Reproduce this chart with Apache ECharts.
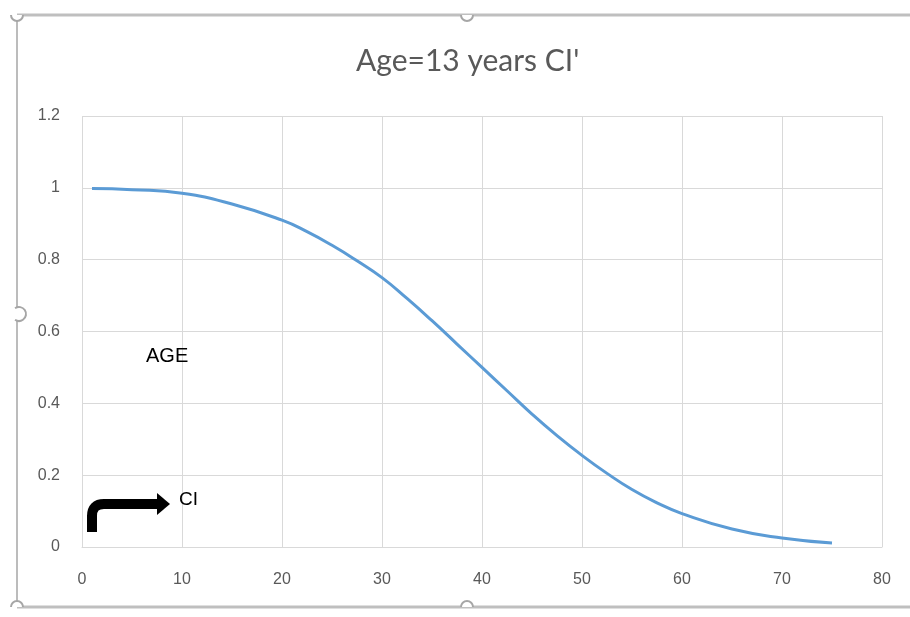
<!DOCTYPE html>
<html><head><meta charset="utf-8">
<script src="https://cdn.jsdelivr.net/npm/echarts@6/dist/echarts.min.js"></script>
<style>html,body{margin:0;padding:0;background:#fff}#c{width:910px;height:617px}</style>
</head><body><div id="c"></div>
<script>
var titleText = "Age=13 years CI'";
var xValues = [1, 5, 10, 15, 20, 22.5, 25, 27.5, 30, 32.5, 35, 37.5, 40, 42.5, 45, 47.5, 50, 52.5, 55, 57.5, 60, 65, 70, 75];
var yValues = [0.998, 0.995, 0.985, 0.955, 0.91, 0.878, 0.84, 0.797, 0.75, 0.692, 0.63, 0.565, 0.5, 0.435, 0.37, 0.31, 0.255, 0.205, 0.16, 0.123, 0.093, 0.05, 0.025, 0.011];
var xTicks = [0, 80, 10];
var yTicks = [0, 1.2, 0.2];
var annotationAge = "AGE";
var annotationCI = "CI";

var chart = echarts.init(document.getElementById('c'), null, {renderer: 'canvas'});
var frame = '#a6a6a6';
chart.setOption({
  animation: false,
  title: {text: titleText, left: 351, top: 41,
    textStyle: {color: '#595959', fontSize: 30, fontWeight: 'normal', fontFamily: 'Lato'}},
  grid: {left: 82, right: 28, top: 116, bottom: 70},
  xAxis: {type: 'value', min: xTicks[0], max: xTicks[1], interval: xTicks[2],
    axisLine: {show: true, lineStyle: {color: '#d9d9d9'}}, axisTick: {show: false},
    splitLine: {show: true, lineStyle: {color: '#d9d9d9', width: 1}},
    axisLabel: {color: '#595959', fontSize: 16, margin: 25, fontFamily: 'Liberation Sans'}},
  yAxis: {type: 'value', min: yTicks[0], max: yTicks[1], interval: yTicks[2],
    axisLine: {show: false}, axisTick: {show: false},
    splitLine: {show: true, lineStyle: {color: '#d9d9d9', width: 1}},
    axisLabel: {color: '#595959', fontSize: 16, margin: 22, fontFamily: 'Liberation Sans'}},
  series: [{type: 'line', smooth: true, showSymbol: false,
    data: xValues.map(function (x, i) { return [x, yValues[i]]; }),
    lineStyle: {color: '#5b9bd5', width: 3}}],
  graphic: [
    {type: 'line', shape: {x1: 17, y1: 15, x2: 910, y2: 15}, style: {stroke: '#bfbfbf', lineWidth: 3}},
    {type: 'line', shape: {x1: 17, y1: 15, x2: 17, y2: 607}, style: {stroke: frame, lineWidth: 1.5}},
    {type: 'line', shape: {x1: 17, y1: 607, x2: 910, y2: 607}, style: {stroke: '#bfbfbf', lineWidth: 3}},
    {type: 'arc', shape: {cx: 17, cy: 15, r: 6, startAngle: 0, endAngle: Math.PI}, style: {stroke: frame, lineWidth: 2, fill: '#fff'}},
    {type: 'arc', shape: {cx: 467, cy: 15, r: 6, startAngle: 0, endAngle: Math.PI}, style: {stroke: frame, lineWidth: 2, fill: '#fff'}},
    {type: 'arc', shape: {cx: 17, cy: 607, r: 6, startAngle: Math.PI, endAngle: 2 * Math.PI}, style: {stroke: frame, lineWidth: 2, fill: '#fff'}},
    {type: 'arc', shape: {cx: 467, cy: 607, r: 6, startAngle: Math.PI, endAngle: 2 * Math.PI}, style: {stroke: frame, lineWidth: 2, fill: '#fff'}},
    {type: 'arc', shape: {cx: 19, cy: 314, r: 7, startAngle: -Math.PI / 2 - 0.6, endAngle: Math.PI / 2 + 0.6}, style: {stroke: frame, lineWidth: 2, fill: '#fff'}},
    {type: 'text', x: 146, y: 346, z: 10, style: {text: annotationAge, fill: '#000', fontSize: 20, fontFamily: 'Liberation Sans'}},
    {type: 'text', x: 179, y: 490, z: 10, style: {text: annotationCI, fill: '#000', fontSize: 19, fontFamily: 'Liberation Sans'}},
    {type: 'line', shape: {x1: 92, y1: 532, x2: 92, y2: 515}, style: {stroke: '#000', lineWidth: 10}},
    {type: 'bezierCurve', shape: {x1: 92, y1: 516, cpx1: 92, cpy1: 504, x2: 104, y2: 504}, style: {stroke: '#000', lineWidth: 10, fill: null}},
    {type: 'line', shape: {x1: 103, y1: 504, x2: 160, y2: 504}, style: {stroke: '#000', lineWidth: 10}},
    {type: 'polygon', shape: {points: [[157, 493], [170, 504], [157, 515]]}, style: {fill: '#000'}}
  ]
});
</script></body></html>
